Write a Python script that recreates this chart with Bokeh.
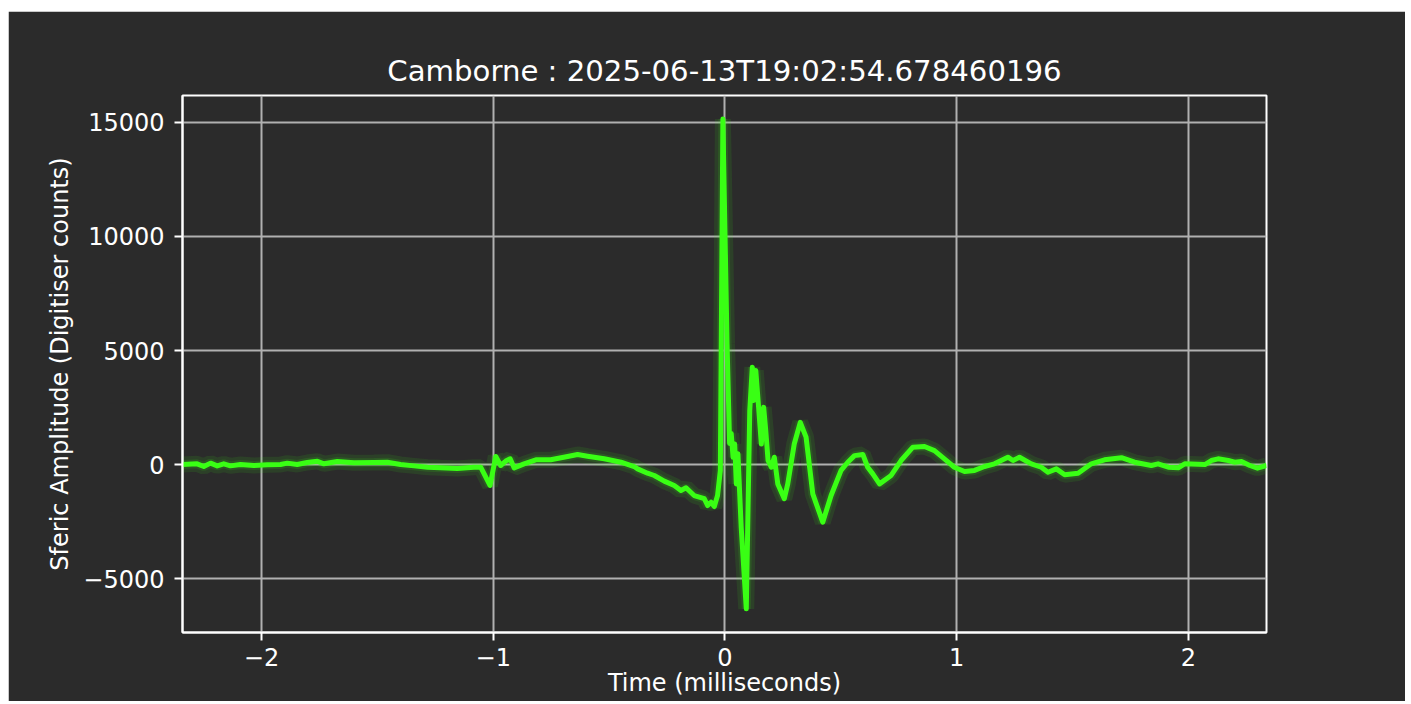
from bokeh.plotting import figure
from bokeh.models import Range1d, FixedTicker, CustomJSTickFormatter, ColumnDataSource
from bokeh.embed import file_html
from bokeh.resources import INLINE

title_text = "Camborne : 2025-06-13T19:02:54.678460196"
x_label = "Time (milliseconds)"
y_label = "Sferic Amplitude (Digitiser counts)"

# time in milliseconds
time_ms = [
    -2.341, -2.278, -2.249, -2.220, -2.191, -2.163, -2.134, -2.091, -2.033, -1.975,
    -1.918, -1.889, -1.846, -1.803, -1.759, -1.731, -1.673, -1.601, -1.515, -1.457,
    -1.400, -1.342, -1.284, -1.227, -1.155, -1.083, -1.054, -1.014, -0.989, -0.968,
    -0.946, -0.927, -0.910, -0.867, -0.816, -0.752, -0.679, -0.636, -0.593, -0.521,
    -0.449, -0.392, -0.377, -0.334, -0.305, -0.262, -0.219, -0.190, -0.168, -0.133,
    -0.089, -0.075, -0.060, -0.046, -0.032, -0.020, -0.009, 0.009, 0.020, 0.027,
    0.035, 0.042, 0.049, 0.056, 0.070, 0.092, 0.107, 0.118, 0.124, 0.133,
    0.143, 0.157, 0.167, 0.176, 0.186, 0.200, 0.213, 0.228, 0.256, 0.271,
    0.299, 0.325, 0.350, 0.379, 0.422, 0.458, 0.501, 0.530, 0.559, 0.595,
    0.616, 0.638, 0.667, 0.717, 0.760, 0.811, 0.861, 0.904, 0.947, 0.990,
    1.034, 1.077, 1.120, 1.163, 1.221, 1.243, 1.271, 1.322, 1.365, 1.394,
    1.430, 1.466, 1.524, 1.581, 1.638, 1.711, 1.768, 1.840, 1.869, 1.913,
    1.956, 1.984, 2.071, 2.099, 2.128, 2.172, 2.200, 2.229, 2.265, 2.298,
    2.337,
]
# amplitude in digitiser counts
amplitude = [
    0, 30, -88, 60, -60, 30, -60, 0, -44, -15,
    0, 60, 0, 88, 145, 30, 130, 75, 88, 100,
    0, -60, -120, -145, -175, -120, -120, -920, 350, -44,
    150, 250, -145, 30, 206, 206, 350, 440, 365, 250,
    100, -88, -190, -380, -482, -730, -921, -1140, -1020, -1360,
    -1500, -1800, -1653, -1842, -1360, -260, 15150, 5300, 920, 1360,
    320, 900, -850, 470, -2750, -6330, 2370, 4270, 2810, 4120,
    2800, 900, 2510, 1490, 175, -120, 320, -850, -1500, -850,
    900, 1850, 1200, -1290, -2530, -1360, -260, 100, 390, 440,
    -120, -410, -850, -480, 175, 760, 790, 610, 250, -120,
    -310, -260, -88, 30, 320, 175, 320, 30, -120, -340,
    -190, -450, -380, 30, 206, 300, 100, -44, 30, -120,
    -145, 30, 0, 175, 250, 175, 100, 130, -44, -160,
    -44,
]

x_ticks = [-2, -1, 0, 1, 2]
y_ticks = [-5000, 0, 5000, 10000, 15000]

BG = "#2b2b2b"
GREEN = "#39ff14"
FONT = "DejaVu Sans"

src = ColumnDataSource(dict(t=time_ms, a=amplitude))

p = figure(width=1397, height=690, output_backend="svg", toolbar_location=None,
           x_range=Range1d(-2.341, 2.337), y_range=Range1d(-7368, 16184),
           title=title_text)
p.margin = (11, 0, 0, 8)
p.min_border_left = 174
p.min_border_right = 139
p.min_border_top = 84
p.min_border_bottom = 69
p.background_fill_color = BG
p.border_fill_color = BG
p.outline_line_color = "white"
p.outline_line_width = 2

p.title.text_color = "white"
p.title.text_font = FONT
p.title.text_font_size = "29.2px"
p.title.text_font_style = "normal"
p.title.align = "center"
p.title.standoff = 16

p.line("t", "a", source=src, line_color=GREEN, line_width=16, line_alpha=0.10)
p.line("t", "a", source=src, line_color=GREEN, line_width=9, line_alpha=0.12)
p.line("t", "a", source=src, line_color=GREEN, line_width=5, line_join="round")

fmt = CustomJSTickFormatter(code="return (tick < 0 ? '\\u2212' : '') + Math.abs(tick).toString();")

for ax, ticks in ((p.xaxis[0], x_ticks), (p.yaxis[0], y_ticks)):
    ax.ticker = FixedTicker(ticks=ticks)
    ax.formatter = fmt
    ax.minor_tick_line_color = None
    ax.major_tick_in = 0
    ax.major_tick_out = 8
    ax.major_tick_line_color = "white"
    ax.major_tick_line_width = 2
    ax.axis_line_color = "white"
    ax.axis_line_width = 2
    ax.major_label_text_color = "white"
    ax.major_label_text_font = FONT
    ax.major_label_text_font_size = "24px"
    ax.axis_label_text_color = "white"
    ax.axis_label_text_font = FONT
    ax.axis_label_text_font_size = "24px"
    ax.axis_label_text_font_style = "normal"

p.xaxis.axis_label = x_label
p.yaxis.axis_label = y_label
p.xaxis.major_label_standoff = 7
p.xaxis.axis_label_standoff = 0
p.yaxis.major_label_standoff = 10
p.yaxis.axis_label_standoff = 6

p.grid.grid_line_color = "#b0b0b0"
p.grid.grid_line_width = 2
p.xgrid.ticker = FixedTicker(ticks=x_ticks)
p.ygrid.ticker = FixedTicker(ticks=y_ticks)

open("out.html", "w").write(file_html(p, INLINE))
